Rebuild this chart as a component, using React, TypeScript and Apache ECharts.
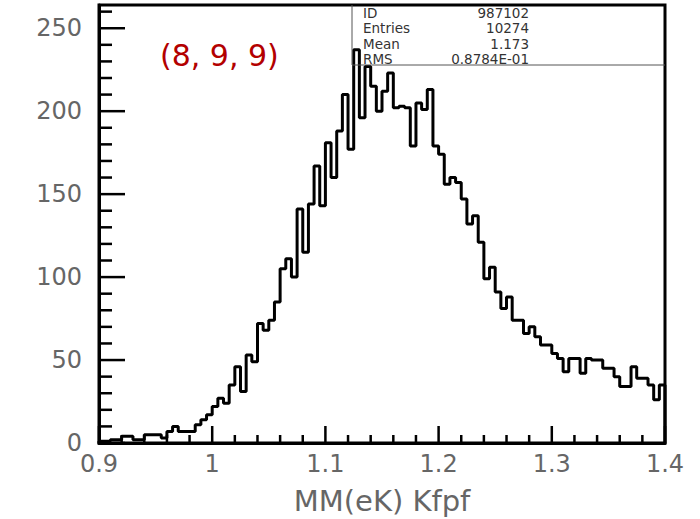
import React, { useEffect, useRef } from "react";
import * as echarts from "echarts";

// Histogram binning (100 bins over 0.9 .. 1.4)
const BIN_LOW = 0.9;
const BIN_HIGH = 1.4;
const BIN_COUNT = 100;
const Y_MAX = 264;

// Bin contents, left to right
const counts: number[] = [
  1, 1, 2, 2, 4, 4, 2, 2, 5, 5,
  5, 3, 7, 10, 7, 7, 7, 11, 14, 17,
  22, 27, 24, 35, 46, 31, 53, 49, 72, 68,
  74, 85, 105, 111, 100, 141, 115, 144, 167, 143,
  181, 160, 188, 210, 177, 237, 196, 227, 215, 200,
  212, 223, 202, 203, 202, 179, 205, 201, 213, 179,
  174, 156, 160, 157, 147, 132, 137, 121, 99, 106,
  91, 81, 88, 74, 74, 66, 70, 64, 59, 59,
  54, 51, 43, 51, 51, 42, 51, 50, 50, 45,
  45, 40, 34, 34, 46, 39, 39, 35, 26, 35,
];

// Axis tick positions (major carry labels, minor are the short marks)
const xMajorTicks = [0.9, 1.0, 1.1, 1.2, 1.3, 1.4];
const xMinorStep = 0.02;
const yMajorTicks = [0, 50, 100, 150, 200, 250];
const yMinorStep = 10;

// Statistics box
const statNames = ["ID", "Entries", "Mean", "RMS"];
const statValues = ["987102", "10274", "1.173", "0.8784E-01"];

const plotTitle = "(8, 9, 9)";
const xTitle = "MM(eK) Kfpf";

const FONT = "'DejaVu Sans', sans-serif";

export default function App() {
  const ref = useRef<HTMLDivElement>(null);

  useEffect(() => {
    if (!ref.current) return;
    document.body.style.margin = "0";
    const chart = echarts.init(ref.current, null, { renderer: "svg" });

    const width = (BIN_HIGH - BIN_LOW) / BIN_COUNT;
    const outline: [number, number][] = [[BIN_LOW, 0]];
    counts.forEach((c, i) => outline.push([BIN_LOW + i * width, c]));
    outline.push([BIN_HIGH, counts[counts.length - 1]]);
    outline.push([BIN_HIGH, 0]);

    const gridLeft = 99;
    const gridTop = 5;
    const gridRight = 665;

    chart.setOption({
      animation: false,
      backgroundColor: "#fff",
      grid: {
        left: gridLeft,
        top: gridTop,
        width: gridRight - gridLeft,
        height: 443 - gridTop,
        show: true,
        borderColor: "#000",
        borderWidth: 3,
        backgroundColor: "transparent",
        outerBoundsMode: "none",
        containLabel: false,
      },
      xAxis: {
        type: "value",
        min: BIN_LOW,
        max: BIN_HIGH,
        interval: 0.1,
        name: xTitle,
        nameLocation: "middle",
        nameGap: 43,
        nameTextStyle: { fontFamily: FONT, fontSize: 29, color: "#666" },
        axisLine: { show: true, lineStyle: { color: "#000", width: 3 } },
        axisTick: { show: false },
        minorTick: { show: false },
        splitLine: { show: false },
        axisLabel: { fontFamily: FONT, fontSize: 24, color: "#666", margin: 9 },
      },
      yAxis: {
        type: "value",
        min: 0,
        max: Y_MAX,
        interval: 50,
        axisLine: { show: true, lineStyle: { color: "#000", width: 3 } },
        axisTick: { show: false },
        minorTick: { show: false },
        splitLine: { show: false },
        axisLabel: { fontFamily: FONT, fontSize: 24, color: "#666", margin: 17 },
      },
      series: [
        {
          type: "line",
          step: "end",
          data: outline,
          symbol: "none",
          lineStyle: { color: "#000", width: 3 },
          clip: true,
          z: 5,
        },
      ],
    });

    // tick marks placed through the grid's own coordinate conversion
    const px = (x: number, y: number): number[] =>
      chart.convertToPixel({ gridIndex: 0 }, [x, y]) as number[];
    const tickStyle = { stroke: "#000", lineWidth: 2.5 };
    const graphic: any[] = [];
    const addXTick = (v: number, len: number) => {
      const p = px(v, 0);
      graphic.push({
        type: "line",
        shape: { x1: p[0], y1: p[1], x2: p[0], y2: p[1] - len },
        style: tickStyle,
        z: 8,
      });
    };
    const addYTick = (v: number, len: number) => {
      const p = px(BIN_LOW, v);
      graphic.push({
        type: "line",
        shape: { x1: p[0], y1: p[1], x2: p[0] + len, y2: p[1] },
        style: tickStyle,
        z: 8,
      });
    };
    xMajorTicks.forEach((v) => addXTick(v, 17));
    for (let k = 1; BIN_LOW + k * xMinorStep < BIN_HIGH - 1e-9; k++) {
      const v = +(BIN_LOW + k * xMinorStep).toFixed(3);
      if (!xMajorTicks.some((m) => Math.abs(m - v) < 1e-9)) addXTick(v, 8);
    }
    yMajorTicks.forEach((v) => addYTick(v, 26));
    for (let v = yMinorStep; v < Y_MAX; v += yMinorStep) {
      if (!yMajorTicks.includes(v)) addYTick(v, 13);
    }

    // statistics box
    const statLeft = 352;
    const statBottom = 65;
    const rowH = 15.3;
    graphic.push(
      {
        type: "line",
        shape: { x1: statLeft, y1: gridTop, x2: statLeft, y2: statBottom },
        style: { stroke: "#555", lineWidth: 1 },
        z: 10,
      },
      {
        type: "line",
        shape: { x1: statLeft, y1: statBottom, x2: gridRight, y2: statBottom },
        style: { stroke: "#555", lineWidth: 1 },
        z: 10,
      }
    );
    statNames.forEach((n, i) => {
      graphic.push({
        type: "text",
        x: 363,
        y: 13 + i * rowH,
        style: {
          text: n,
          fill: "#333",
          font: `13.5px ${FONT}`,
          textAlign: "left",
          textVerticalAlign: "middle",
        },
        z: 10,
      });
      graphic.push({
        type: "text",
        x: 529,
        y: 13 + i * rowH,
        style: {
          text: statValues[i],
          fill: "#333",
          font: `13.5px ${FONT}`,
          textAlign: "right",
          textVerticalAlign: "middle",
        },
        z: 10,
      });
    });
    graphic.push({
      type: "text",
      x: 160,
      y: 55,
      style: {
        text: plotTitle,
        fill: "#b30000",
        font: `30px ${FONT}`,
        textAlign: "left",
        textVerticalAlign: "middle",
      },
      z: 10,
    });

    chart.setOption({ graphic });

    return () => chart.dispose();
  }, []);

  return <div ref={ref} style={{ width: 700, height: 519 }} />;
}
